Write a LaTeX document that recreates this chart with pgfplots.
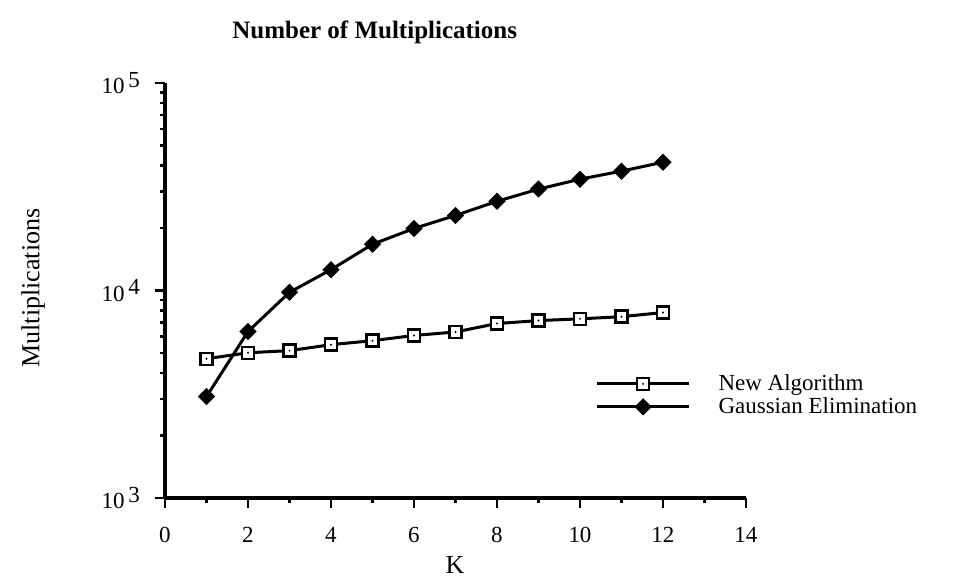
\documentclass[border=0pt]{standalone}
\usepackage{pgfplots}
\pgfplotsset{compat=1.18}
\usepackage{fontspec}
\setmainfont{Liberation Serif}

\pgfdeclareplotmark{sqdot}{%
  \pgfscope
  \pgfsetfillcolor{white}%
  \pgfpathrectangle{\pgfqpoint{-\pgfplotmarksize}{-\pgfplotmarksize}}{\pgfqpoint{2\pgfplotmarksize}{2\pgfplotmarksize}}%
  \pgfusepathqfillstroke
  \pgfsetfillcolor{black}%
  \pgfpathcircle{\pgfpointorigin}{0.55pt}%
  \pgfusepathqfill
  \endpgfscope
}

\begin{document}
\begin{tikzpicture}
\useasboundingbox (-82.5pt,-44.5pt) rectangle (397.5pt,249pt);
\begin{axis}[
  width=290.5pt, height=207.5pt, scale only axis,
  ymode=log, xmin=0, xmax=14, ymin=1000, ymax=100000,
  axis x line=bottom, axis y line=left,
  axis line style={-, line width=1.8pt},
  xtick={0,2,...,14}, minor x tick num=1,
  ytick={1000,10000,100000},
  yticklabels={10\,\raisebox{0.6ex}{3},10\,\raisebox{0.6ex}{4},10\,\raisebox{0.6ex}{5}},
  tick align=outside,
  major tick length=5pt, minor tick length=2.5pt,
  every tick/.style={black, line width=1.2pt},
  /pgf/number format/assume math mode=true,
  tick label style={font=\fontsize{11.5}{13}\selectfont},
  xticklabel style={yshift=-6pt},
  yticklabel style={xshift=-4pt},
  title={Number of Multiplications},
  title style={at={(axis description cs:0.361,1.092)}, anchor=center, font=\bfseries\fontsize{12.5}{15}\selectfont},
  xlabel={K},
  xlabel style={at={(axis description cs:0.499,-0.161)}, anchor=center, font=\fontsize{13}{15}\selectfont},
  ylabel={Multiplications},
  ylabel style={at={(axis description cs:-0.227,0.506)}, anchor=center, font=\fontsize{13}{15}\selectfont},
  legend style={draw=none, fill=none, at={(axis description cs:0.73,0.318)}, anchor=north west,
    font=\fontsize{11.5}{13}\selectfont, row sep=-2pt},
  legend cell align=left,
  legend image code/.code={
    \draw[#1, mark repeat=2, mark phase=2] plot coordinates {(0pt,0pt) (23pt,0pt) (46pt,0pt)};
    \path (58pt,0pt);
  },
  clip=false,
]
\addplot[black, line width=1.5pt, mark=sqdot, mark size=3pt, mark options={line width=1.2pt, solid}]
  coordinates {(1,4690) (2,5010) (3,5130) (4,5480) (5,5730) (6,6070) (7,6310) (8,6930) (9,7160) (10,7300) (11,7480) (12,7830)};
\addlegendentry{New Algorithm}
\addplot[black, line width=1.5pt, mark=square*, mark size=2.3pt, mark options={rotate=45, solid}]
  coordinates {(1,3080) (2,6340) (3,9800) (4,12600) (5,16700) (6,19900) (7,23000) (8,26900) (9,30800) (10,34400) (11,37600) (12,41500)};
\addlegendentry{Gaussian Elimination}
\end{axis}
\end{tikzpicture}
\end{document}
